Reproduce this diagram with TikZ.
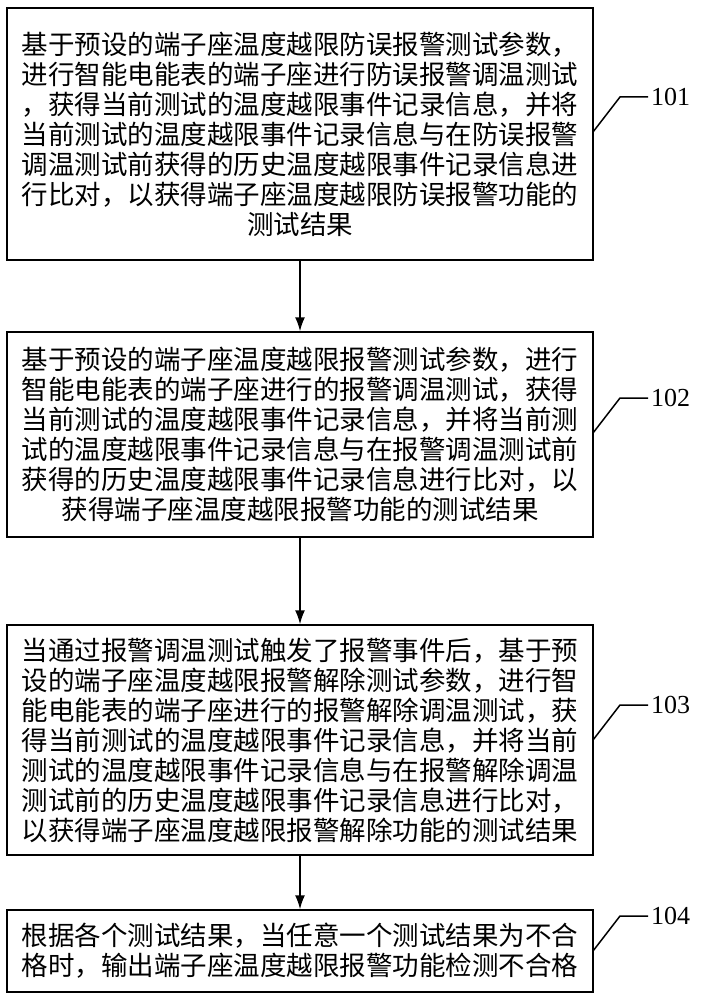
\documentclass[tikz,border=0pt]{standalone}
\usepackage{fontspec}
\setmainfont{Liberation Serif}
\newfontfamily\cjk{Noto Sans CJK SC}
\usetikzlibrary{arrows.meta}
\begin{document}
\begin{tikzpicture}[x=1pt,y=-1pt]
\tikzstyle{stepbox}=[draw, line width=1.5pt, rectangle, minimum width=586pt, inner sep=0pt, align=center, font=\cjk\fontsize{26.5}{30}\selectfont]
\tikzstyle{line}=[draw, line width=1.5pt, -{Latex[length=14pt,width=10pt]}]
\tikzstyle{leader}=[draw, line width=1.5pt]
\tikzstyle{tag}=[anchor=west, inner sep=3pt, font=\fontsize{26}{30}\selectfont]
\useasboundingbox (0,0) rectangle (701,1000);

% Define steps
\node[stepbox, minimum height=252pt] (s101) at (300,134) {基于预设的端子座温度越限防误报警测试参数，\\进行智能电能表的端子座进行防误报警调温测试\\，获得当前测试的温度越限事件记录信息，并将\\当前测试的温度越限事件记录信息与在防误报警\\调温测试前获得的历史温度越限事件记录信息进\\行比对，以获得端子座温度越限防误报警功能的\\测试结果};
\node[stepbox, minimum height=205pt] (s102) at (300,434.5) {基于预设的端子座温度越限报警测试参数，进行\\智能电能表的端子座进行的报警调温测试，获得\\当前测试的温度越限事件记录信息，并将当前测\\试的温度越限事件记录信息与在报警调温测试前\\获得的历史温度越限事件记录信息进行比对，以\\获得端子座温度越限报警功能的测试结果};
\node[stepbox, minimum height=230pt] (s103) at (300,740) {当通过报警调温测试触发了报警事件后，基于预\\设的端子座温度越限报警解除测试参数，进行智\\能电能表的端子座进行的报警解除调温测试，获\\得当前测试的温度越限事件记录信息，并将当前\\测试的温度越限事件记录信息与在报警解除调温\\测试前的历史温度越限事件记录信息进行比对，\\以获得端子座温度越限报警解除功能的测试结果};
\node[stepbox, minimum height=82pt] (s104) at (300,951) {根据各个测试结果，当任意一个测试结果为不合\\格时，输出端子座温度越限报警功能检测不合格};

% Step numbers
\node[tag] (t101) at (648,97) {101};
\node[tag] (t102) at (648,398) {102};
\node[tag] (t103) at (648,705) {103};
\node[tag] (t104) at (648,916) {104};

% Leader lines
\coordinate (c101) at (593,132);
\coordinate (c102) at (593,433);
\coordinate (c103) at (593,740);
\coordinate (c104) at (593,951);
\draw[leader] (c101) -- ++(27,-35) -- (t101.west);
\draw[leader] (c102) -- ++(27,-35) -- (t102.west);
\draw[leader] (c103) -- ++(27,-35) -- (t103.west);
\draw[leader] (c104) -- ++(27,-35) -- (t104.west);

% Flow
\draw[line] (s101) -- (s102);
\draw[line] (s102) -- (s103);
\draw[line] (s103) -- (s104);
\end{tikzpicture}
\end{document}
